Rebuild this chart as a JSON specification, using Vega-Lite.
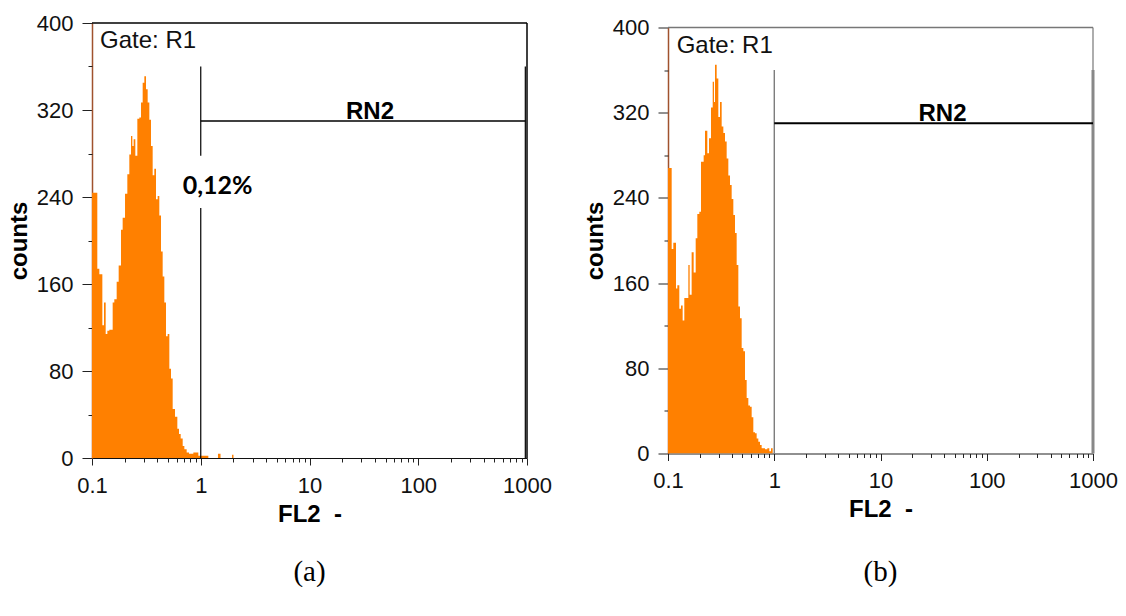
{
  "$schema": "https://vega.github.io/schema/vega-lite/v6.json",
  "background": "white",
  "padding": {"left": 7, "top": 12, "right": 0, "bottom": 0},
  "config": {"view": {"stroke": null}, "font": "Liberation Sans"},
  "bounds": "flush",
  "spacing": 141,
  "center": true,
  "datasets": {
    "one": [{}],
    "histA": [
      {"fl2": 0.1, "count": 244}, {"fl2": 0.1119, "count": 174}, {"fl2": 0.1168, "count": 169},
      {"fl2": 0.1245, "count": 122}, {"fl2": 0.1289, "count": 143}, {"fl2": 0.1336, "count": 114},
      {"fl2": 0.1384, "count": 117}, {"fl2": 0.1443, "count": 118}, {"fl2": 0.1549, "count": 143},
      {"fl2": 0.1604, "count": 146}, {"fl2": 0.1686, "count": 162}, {"fl2": 0.1759, "count": 177},
      {"fl2": 0.1848, "count": 210}, {"fl2": 0.1914, "count": 221}, {"fl2": 0.2012, "count": 243},
      {"fl2": 0.2113, "count": 261}, {"fl2": 0.2204, "count": 279}, {"fl2": 0.2284, "count": 296},
      {"fl2": 0.2349, "count": 287}, {"fl2": 0.2416, "count": 293}, {"fl2": 0.2503, "count": 278},
      {"fl2": 0.2612, "count": 312}, {"fl2": 0.2724, "count": 313}, {"fl2": 0.2823, "count": 327},
      {"fl2": 0.2924, "count": 345}, {"fl2": 0.3029, "count": 351}, {"fl2": 0.3138, "count": 339},
      {"fl2": 0.325, "count": 327}, {"fl2": 0.3367, "count": 311}, {"fl2": 0.3487, "count": 287},
      {"fl2": 0.3613, "count": 260}, {"fl2": 0.3742, "count": 266}, {"fl2": 0.3877, "count": 238},
      {"fl2": 0.4016, "count": 241}, {"fl2": 0.416, "count": 223}, {"fl2": 0.431, "count": 190},
      {"fl2": 0.4465, "count": 167}, {"fl2": 0.4625, "count": 143}, {"fl2": 0.4791, "count": 112},
      {"fl2": 0.4964, "count": 114}, {"fl2": 0.5142, "count": 82}, {"fl2": 0.5327, "count": 73},
      {"fl2": 0.5519, "count": 45}, {"fl2": 0.5799, "count": 38}, {"fl2": 0.6091, "count": 27},
      {"fl2": 0.631, "count": 22}, {"fl2": 0.6537, "count": 18}, {"fl2": 0.6822, "count": 11},
      {"fl2": 0.7067, "count": 8}, {"fl2": 0.7422, "count": 5}, {"fl2": 0.7799, "count": 4},
      {"fl2": 0.8548, "count": 5}, {"fl2": 0.9501, "count": 2}, {"fl2": 1.056, "count": 2},
      {"fl2": 1.174, "count": 0}, {"fl2": 1.44, "count": 4}, {"fl2": 1.52, "count": 0},
      {"fl2": 1.94, "count": 3}, {"fl2": 2.0, "count": 0}
    ],
    "histB": [
      {"fl2": 0.1, "count": 268}, {"fl2": 0.1083, "count": 192}, {"fl2": 0.1122, "count": 198},
      {"fl2": 0.1189, "count": 155}, {"fl2": 0.1224, "count": 158}, {"fl2": 0.1278, "count": 136},
      {"fl2": 0.1325, "count": 139}, {"fl2": 0.1374, "count": 125}, {"fl2": 0.1424, "count": 146},
      {"fl2": 0.1487, "count": 146}, {"fl2": 0.1554, "count": 177}, {"fl2": 0.1599, "count": 149},
      {"fl2": 0.1669, "count": 189}, {"fl2": 0.1744, "count": 170}, {"fl2": 0.1822, "count": 202},
      {"fl2": 0.1888, "count": 225}, {"fl2": 0.1972, "count": 227}, {"fl2": 0.2044, "count": 274},
      {"fl2": 0.2166, "count": 280}, {"fl2": 0.2229, "count": 303}, {"fl2": 0.2345, "count": 282},
      {"fl2": 0.2432, "count": 296}, {"fl2": 0.254, "count": 325}, {"fl2": 0.2634, "count": 349},
      {"fl2": 0.271, "count": 330}, {"fl2": 0.277, "count": 365}, {"fl2": 0.2871, "count": 352},
      {"fl2": 0.2977, "count": 316}, {"fl2": 0.3086, "count": 330}, {"fl2": 0.32, "count": 307},
      {"fl2": 0.3318, "count": 301}, {"fl2": 0.3439, "count": 293}, {"fl2": 0.3566, "count": 277},
      {"fl2": 0.3697, "count": 261}, {"fl2": 0.3833, "count": 252}, {"fl2": 0.3974, "count": 239},
      {"fl2": 0.412, "count": 224}, {"fl2": 0.4272, "count": 207}, {"fl2": 0.4429, "count": 177},
      {"fl2": 0.4592, "count": 138}, {"fl2": 0.4761, "count": 127}, {"fl2": 0.4936, "count": 99},
      {"fl2": 0.5117, "count": 96}, {"fl2": 0.5306, "count": 69}, {"fl2": 0.5501, "count": 52},
      {"fl2": 0.5703, "count": 45}, {"fl2": 0.5913, "count": 44}, {"fl2": 0.613, "count": 34},
      {"fl2": 0.6355, "count": 20}, {"fl2": 0.6589, "count": 19}, {"fl2": 0.6831, "count": 14},
      {"fl2": 0.7082, "count": 11}, {"fl2": 0.7342, "count": 8}, {"fl2": 0.7612, "count": 5},
      {"fl2": 0.8182, "count": 4}, {"fl2": 0.8607, "count": 5}, {"fl2": 0.8988, "count": 2},
      {"fl2": 0.932, "count": 5}, {"fl2": 0.9663, "count": 0}
    ],
    "gateAv": [{"x": 1, "y": 0, "y2": 230}, {"x": 1, "y": 278, "y2": 360}, {"x": 965, "y": 0, "y2": 360}],
    "gateAh": [{"x": 1, "x2": 965, "y": 310}],
    "gateBv": [{"x": 1, "y": 0, "y2": 360}],
    "gateBr": [{"x": 1000, "y": 0, "y2": 360}],
    "gateBh": [{"x": 1, "x2": 1000, "y": 310}]
  },
  "hconcat": [
    {
      "width": 435,
      "height": 435,
      "title": {"text": "(a)", "orient": "bottom", "font": "Liberation Serif", "fontSize": 29, "fontWeight": "normal", "color": "#000", "offset": 32},
      "resolve": {"axis": {"x": "independent", "y": "independent"}},
      "layer": [
        {
          "data": {"name": "histA"},
          "mark": {"type": "area", "interpolate": "step-after", "color": "#FF8000", "clip": true},
          "encoding": {
            "x": {"field": "fl2", "type": "quantitative", "scale": {"type": "log", "domain": [0.1, 1000]},
              "axis": {"orient": "bottom", "values": [0.1, 1, 10, 100, 1000], "format": "~g", "title": "FL2\u00a0\u00a0-", "grid": false,
                "tickSize": 7, "tickColor": "#222", "domainColor": "#111", "domainWidth": 1.2, "labelFont": "Liberation Sans", "labelFontSize": 22, "labelColor": "#111", "labelPadding": 10,
                "labelFlush": false, "labelOverlap": false, "titleFont": "Liberation Sans", "titleFontSize": 24, "titleFontWeight": "bold", "titleColor": "#000", "titlePadding": 6}},
            "y": {"field": "count", "type": "quantitative", "scale": {"domain": [0, 400], "nice": false},
              "axis": {"orient": "left", "values": [0, 80, 160, 240, 320, 400], "title": "counts", "grid": false,
                "tickSize": 10, "tickColor": "#222", "domainColor": "#A0522D", "domainWidth": 1.5, "labelFont": "Liberation Sans", "labelFontSize": 22, "labelColor": "#111", "labelPadding": 9,
                "labelFlush": false, "labelOverlap": false, "titleFont": "Liberation Sans", "titleFontSize": 24, "titleFontWeight": "bold", "titleColor": "#000", "titlePadding": 5}}
          }
        },
        {
          "data": {"name": "histA"},
          "mark": {"type": "point", "opacity": 0},
          "encoding": {
            "x": {"field": "fl2", "type": "quantitative",
              "axis": {"orient": "bottom", "values": [0.2, 0.3, 0.4, 0.5, 0.6, 0.7, 0.8, 0.9, 2, 3, 4, 5, 6, 7, 8, 9, 20, 30, 40, 50, 60, 70, 80, 90, 200, 300, 400, 500, 600, 700, 800, 900],
                "labels": false, "domain": false, "grid": false, "title": null, "tickSize": 4, "tickColor": "#222"}},
            "y": {"field": "count", "type": "quantitative",
              "axis": {"orient": "left", "values": [40, 120, 200, 280, 360], "labels": false, "domain": false, "grid": false, "title": null, "tickSize": 4, "tickColor": "#222"}}
          }
        },
        {
          "data": {"name": "one"},
          "mark": {"type": "rule", "color": "#000", "strokeWidth": 1.5},
          "encoding": {"y": {"datum": 400, "axis": null}}
        },
        {
          "data": {"name": "one"},
          "mark": {"type": "rule", "color": "#000", "strokeWidth": 1.5},
          "encoding": {"x": {"datum": 1000, "axis": null}}
        },
        {
          "data": {"name": "gateAv"},
          "mark": {"type": "rule", "color": "#000", "strokeWidth": 1.2},
          "encoding": {
            "x": {"field": "x", "type": "quantitative", "axis": null},
            "y": {"field": "y", "type": "quantitative", "axis": null},
            "y2": {"field": "y2"}
          }
        },
        {
          "data": {"name": "gateAh"},
          "mark": {"type": "rule", "color": "#000", "strokeWidth": 1.5},
          "encoding": {
            "x": {"field": "x", "type": "quantitative", "axis": null},
            "x2": {"field": "x2"},
            "y": {"field": "y", "type": "quantitative", "axis": null}
          }
        },
        {
          "data": {"name": "one"},
          "mark": {"type": "text", "text": "Gate: R1", "font": "Liberation Sans", "fontSize": 24, "align": "left", "baseline": "middle", "color": "#111"},
          "encoding": {"x": {"datum": 0.1185, "axis": null}, "y": {"datum": 383, "axis": null}}
        },
        {
          "data": {"name": "one"},
          "mark": {"type": "text", "text": "RN2", "font": "Liberation Sans", "fontSize": 24, "fontWeight": "bold", "align": "center", "baseline": "alphabetic", "dy": -2, "color": "#000"},
          "encoding": {"x": {"datum": 36, "axis": null}, "y": {"datum": 310, "axis": null}}
        },
        {
          "data": {"name": "one"},
          "mark": {"type": "text", "text": "0,12%", "font": "Lato", "fontSize": 25, "fontWeight": "bold", "align": "left", "baseline": "middle", "color": "#000"},
          "encoding": {"x": {"datum": 0.682, "axis": null}, "y": {"datum": 250, "axis": null}}
        }
      ]
    },
    {
      "width": 425,
      "height": 426,
      "title": {"text": "(b)", "orient": "bottom", "font": "Liberation Serif", "fontSize": 29, "fontWeight": "normal", "color": "#000", "offset": 36},
      "resolve": {"axis": {"x": "independent", "y": "independent"}},
      "layer": [
        {
          "data": {"name": "histB"},
          "mark": {"type": "area", "interpolate": "step-after", "color": "#FF8000", "clip": true},
          "encoding": {
            "x": {"field": "fl2", "type": "quantitative", "scale": {"type": "log", "domain": [0.1, 1000]},
              "axis": {"orient": "bottom", "values": [0.1, 1, 10, 100, 1000], "format": "~g", "title": "FL2\u00a0\u00a0-", "grid": false,
                "tickSize": 7, "tickColor": "#222", "domainColor": "#222", "domainWidth": 1.2, "labelFont": "Liberation Sans", "labelFontSize": 22, "labelColor": "#111", "labelPadding": 10,
                "labelFlush": false, "labelOverlap": false, "titleFont": "Liberation Sans", "titleFontSize": 24, "titleFontWeight": "bold", "titleColor": "#000", "titlePadding": 6}},
            "y": {"field": "count", "type": "quantitative", "scale": {"domain": [0, 400], "nice": false},
              "axis": {"orient": "left", "values": [0, 80, 160, 240, 320, 400], "title": "counts", "grid": false,
                "tickSize": 10, "tickColor": "#222", "domainColor": "#A0522D", "domainWidth": 1.5, "labelFont": "Liberation Sans", "labelFontSize": 22, "labelColor": "#111", "labelPadding": 9,
                "labelFlush": false, "labelOverlap": false, "titleFont": "Liberation Sans", "titleFontSize": 24, "titleFontWeight": "bold", "titleColor": "#000", "titlePadding": 5}}
          }
        },
        {
          "data": {"name": "histB"},
          "mark": {"type": "point", "opacity": 0},
          "encoding": {
            "x": {"field": "fl2", "type": "quantitative",
              "axis": {"orient": "bottom", "values": [0.2, 0.3, 0.4, 0.5, 0.6, 0.7, 0.8, 0.9, 2, 3, 4, 5, 6, 7, 8, 9, 20, 30, 40, 50, 60, 70, 80, 90, 200, 300, 400, 500, 600, 700, 800, 900],
                "labels": false, "domain": false, "grid": false, "title": null, "tickSize": 4, "tickColor": "#222"}},
            "y": {"field": "count", "type": "quantitative",
              "axis": {"orient": "left", "values": [40, 120, 200, 280, 360], "labels": false, "domain": false, "grid": false, "title": null, "tickSize": 4, "tickColor": "#222"}}
          }
        },
        {
          "data": {"name": "one"},
          "mark": {"type": "rule", "color": "#777", "strokeWidth": 1.5},
          "encoding": {"y": {"datum": 400, "axis": null}}
        },
        {
          "data": {"name": "one"},
          "mark": {"type": "rule", "color": "#777", "strokeWidth": 1.2},
          "encoding": {"x": {"datum": 1000, "axis": null}}
        },
        {
          "data": {"name": "gateBv"},
          "mark": {"type": "rule", "color": "#666", "strokeWidth": 1.2},
          "encoding": {
            "x": {"field": "x", "type": "quantitative", "axis": null},
            "y": {"field": "y", "type": "quantitative", "axis": null},
            "y2": {"field": "y2"}
          }
        },
        {
          "data": {"name": "gateBr"},
          "mark": {"type": "rule", "color": "#888", "strokeWidth": 3},
          "encoding": {
            "x": {"field": "x", "type": "quantitative", "axis": null},
            "y": {"field": "y", "type": "quantitative", "axis": null},
            "y2": {"field": "y2"}
          }
        },
        {
          "data": {"name": "gateBh"},
          "mark": {"type": "rule", "color": "#000", "strokeWidth": 2},
          "encoding": {
            "x": {"field": "x", "type": "quantitative", "axis": null},
            "x2": {"field": "x2"},
            "y": {"field": "y", "type": "quantitative", "axis": null}
          }
        },
        {
          "data": {"name": "one"},
          "mark": {"type": "text", "text": "Gate: R1", "font": "Liberation Sans", "fontSize": 24, "align": "left", "baseline": "middle", "color": "#111"},
          "encoding": {"x": {"datum": 0.1207, "axis": null}, "y": {"datum": 383, "axis": null}}
        },
        {
          "data": {"name": "one"},
          "mark": {"type": "text", "text": "RN2", "font": "Liberation Sans", "fontSize": 24, "fontWeight": "bold", "align": "center", "baseline": "alphabetic", "dy": -2, "color": "#000"},
          "encoding": {"x": {"datum": 38.3, "axis": null}, "y": {"datum": 310, "axis": null}}
        }
      ]
    }
  ]
}
